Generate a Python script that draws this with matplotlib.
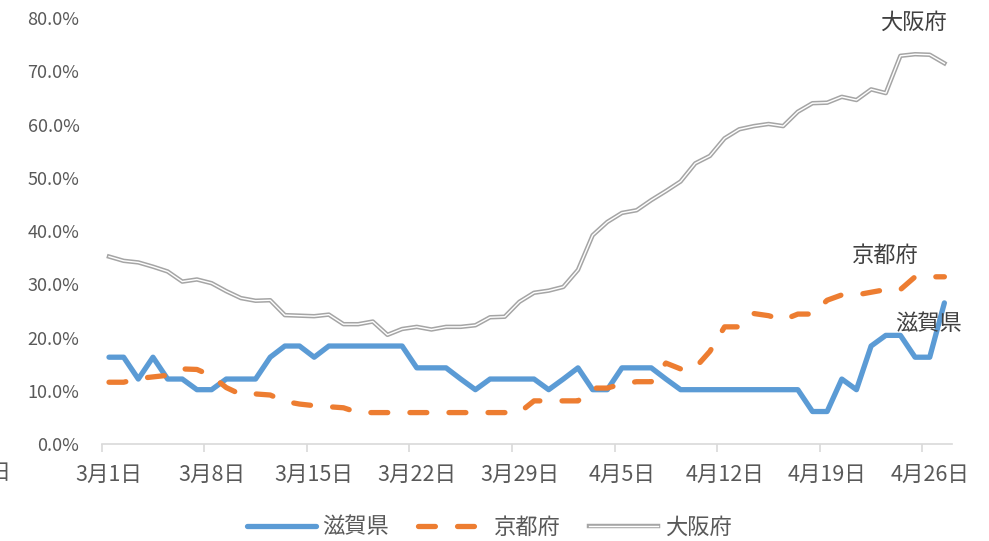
import numpy as np
import matplotlib
matplotlib.use("Agg")
import matplotlib.pyplot as plt
import matplotlib.patheffects as pe

plt.rcParams["font.family"] = ["Noto Sans CJK JP", "DejaVu Sans"]

# Data (percent), 3/1 .. 4/27
tick_labels = ["3月1日", "3月8日", "3月15日", "3月22日", "3月29日",
               "4月5日", "4月12日", "4月19日", "4月26日"]

shiga = [16.3, 16.3, 12.2, 16.3, 12.2, 12.2, 10.2, 10.2, 12.2, 12.2,
         12.2, 16.3, 18.4, 18.4, 16.3, 18.4, 18.4, 18.4, 18.4, 18.4,
         18.4, 14.3, 14.3, 14.3, 12.2, 10.2, 12.2, 12.2, 12.2, 12.2,
         10.2, 12.2, 14.3, 10.2, 10.2, 14.3, 14.3, 14.3, 12.2, 10.2,
         10.2, 10.2, 10.2, 10.2, 10.2, 10.2, 10.2, 10.2, 6.1, 6.1,
         12.2, 10.2, 18.4, 20.4, 20.4, 16.3, 16.3, 26.5]

kyoto = [11.6, 11.6, 12.3, 12.6, 12.9, 14.1, 14.0, 12.8, 10.6, 9.3,
         9.4, 9.2, 8.0, 7.5, 7.2, 7.0, 6.8, 5.9, 5.9, 5.9,
         5.9, 5.9, 5.9, 5.9, 5.9, 5.9, 5.9, 5.9, 5.9, 8.1,
         8.1, 8.1, 8.1, 10.5, 10.5, 11.3, 11.7, 11.7, 15.2, 14.1,
         14.3, 17.4, 22.0, 22.0, 24.5, 24.1, 23.3, 24.4, 24.4, 27.0,
         28.0, 28.0, 28.5, 29.0, 29.0, 31.4, 31.4, 31.4]

osaka = [35.2, 34.4, 34.1, 33.3, 32.4, 30.5, 30.9, 30.2, 28.7, 27.4,
         26.9, 27.0, 24.2, 24.1, 24.0, 24.3, 22.5, 22.5, 23.0, 20.5,
         21.6, 22.0, 21.5, 22.0, 22.0, 22.3, 23.8, 23.9, 26.7, 28.4,
         28.8, 29.5, 32.7, 39.2, 41.7, 43.4, 43.9, 45.8, 47.5, 49.3,
         52.7, 54.1, 57.4, 59.1, 59.7, 60.1, 59.7, 62.4, 64.0, 64.1,
         65.2, 64.6, 66.6, 65.9, 72.9, 73.2, 73.1, 71.5]

x = np.arange(len(shiga))
text_col = "#595959"

fig = plt.figure(figsize=(9.89, 5.41), dpi=100)
ax = fig.add_axes([0.1028, 0.1793, 0.8595, 0.7874])

ax.plot(x, shiga, color="#5B9BD5", lw=3.8, solid_joinstyle="round",
        solid_capstyle="round", label="滋賀県")
ax.plot(x, kyoto, color="#ED7D31", lw=3.8, dashes=(3.2, 4.2),
        dash_capstyle="round", dash_joinstyle="round", label="京都府")
ax.plot(x, osaka, color="white", lw=1.0, label="大阪府",
        path_effects=[pe.Stroke(linewidth=3.2, foreground="#A5A5A5"), pe.Normal()])

ax.set_xlim(-0.5, len(x) - 0.5)
ax.set_ylim(0, 80)
ax.set_yticks(np.arange(0, 81, 10))
ax.set_yticklabels([f"{v:.1f}%" for v in np.arange(0, 81, 10)])
ax.set_xticks(np.arange(0, len(x), 7))
ax.set_xticklabels(tick_labels)
ax.set_xticks(np.arange(-0.5, len(x) - 1, 7), minor=True)

ax.tick_params(axis="y", length=0, pad=16, labelsize=13, labelcolor=text_col)
ax.tick_params(axis="x", which="major", length=0, pad=14, labelsize=15.5,
               labelcolor=text_col)
ax.tick_params(axis="x", which="minor", length=6, width=1.2, color="#D9D9D9")

for s in ["top", "right", "left"]:
    ax.spines[s].set_visible(False)
ax.spines["bottom"].set_color("#D9D9D9")
ax.spines["bottom"].set_linewidth(1.2)

# series labels
ax.text(54.9, 79.2, "大阪府", fontsize=16, color="#404040", ha="center", va="center")
ax.text(53.0, 35.5, "京都府", fontsize=16, color="#404040", ha="center", va="center")
ax.text(55.9, 22.7, "滋賀県", fontsize=16, color="#404040", ha="center", va="center")

# label of the previous week, cut off by the left edge
ax.text(-6.7, -5.5, "2月23日", fontsize=15.5, color=text_col, ha="right",
        va="center", clip_on=False)

fig.legend(loc="center", bbox_to_anchor=(0.4945, 0.026), ncol=3, frameon=False,
           fontsize=16, handlelength=3.1, handletextpad=0.3, columnspacing=1.3,
           labelcolor=text_col)

fig.savefig("out.png", dpi=100)
